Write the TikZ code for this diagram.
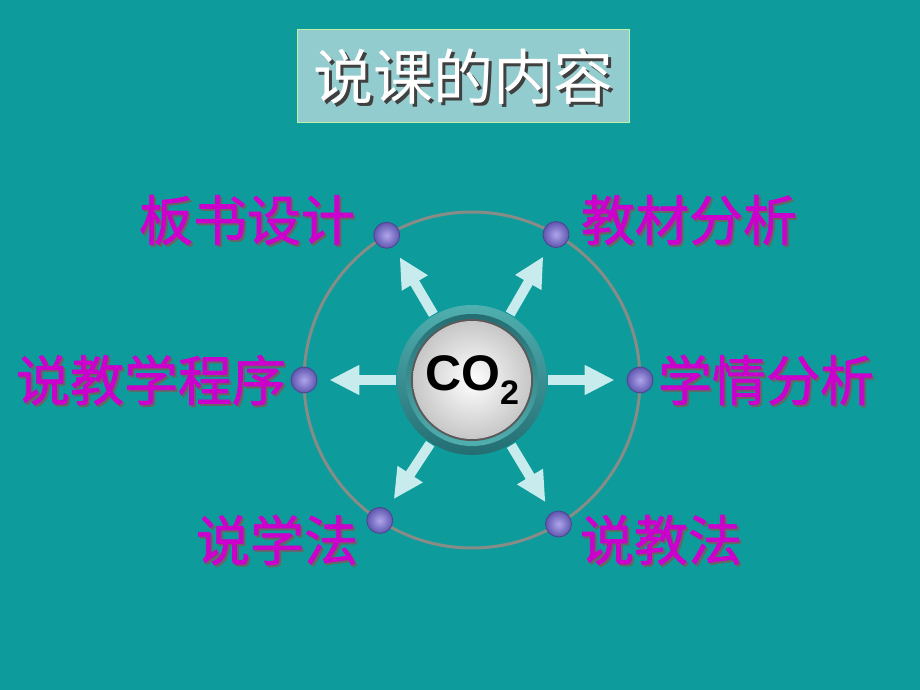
\documentclass[tikz,border=0pt]{standalone}
\usepackage{fontspec}
\newfontfamily\cjk{Noto Sans CJK SC}
\newfontfamily\cjkb[FakeBold=1.3]{Noto Sans CJK SC}
\setsansfont{Liberation Sans}
\usetikzlibrary{arrows.meta}
\definecolor{bgteal}{RGB}{14,155,155}
\definecolor{titlefill}{RGB}{146,204,207}
\definecolor{titleedge}{RGB}{190,240,170}
\definecolor{lblmag}{RGB}{204,0,204}
\definecolor{arrcyan}{RGB}{200,236,238}
\definecolor{ringgray}{RGB}{135,140,135}
\definecolor{dotin}{RGB}{175,165,235}
\definecolor{dotout}{RGB}{95,85,175}
\definecolor{hublt}{RGB}{80,175,175}
\definecolor{hubdk}{RGB}{35,110,115}
\tikzset{
	dot/.style={circle,minimum size=26pt,inner sep=0pt,draw=dotout!80!black,line width=0.8pt,inner color=dotin,outer color=dotout},
	arr/.style={draw=arrcyan,line width=10pt,-{Triangle[length=30pt,width=28pt]},shorten >=12pt},
	lbl/.style={text=lblmag,font=\cjkb\fontsize{54}{54}\selectfont,inner sep=0pt},
	shd/.style={text=black!60,font=\cjkb\fontsize{54}{54}\selectfont,inner sep=0pt,xshift=2pt,yshift=-2pt},
}
\begin{document}
\begin{tikzpicture}[x=1pt,y=1pt]
		\fill[bgteal] (-472,-310) rectangle (448,380);
		% title
		\node[draw=titleedge,fill=titlefill,line width=1pt,minimum width=331pt,minimum height=93pt] (title) at (-8.5,303.5) {};
		\node[text=black!75,font=\cjk\fontsize{60}{60}\selectfont,inner sep=0pt,xshift=3pt,yshift=-3pt] at (title) {说课的内容};
		\node[text=white,font=\cjk\fontsize{60}{60}\selectfont,inner sep=0pt] (ttl) at (title) {说课的内容};
		% ring and hub
		\draw[ringgray,line width=3pt] (0,0) circle (168);
		\shade[top color=hublt,bottom color=hubdk] (0,0) circle (75);
		\shade[top color=hubdk,bottom color=hublt] (0,0) circle (66);
		\fill[black!65] (0,0) circle (61);
		\shade[inner color=white,outer color=black!22] (0,0) circle (59);
		\node[circle,minimum size=152pt,inner sep=0pt,font=\sffamily\bfseries\fontsize{50}{50}\selectfont] (hub) at (0,0) {CO\raisebox{-0.55ex}{\fontsize{34}{34}\selectfont 2}};
		\foreach \n/\a in {d1/120.5,d2/60,d3/180,d4/0,d5/236.7,d6/301}
			\node[dot] (\n) at (\a:168) {};
		\foreach \n in {d1,d2,d3,d4,d5,d6}
			\draw[arr] (hub) -- (\n);
		% labels
		\foreach \n/\p/\t in {l1/{-225,160}/板书设计,l2/{217,160}/教材分析,l3/{-321,0}/说教学程序,l4/{294,0}/学情分析,l5/{-195,-160}/说学法,l6/{189,-160}/说教法}{
			\node[shd] at (\p) {\t};
			\node[lbl] (\n) at (\p) {\t};
		}
	\end{tikzpicture}
\end{document}
